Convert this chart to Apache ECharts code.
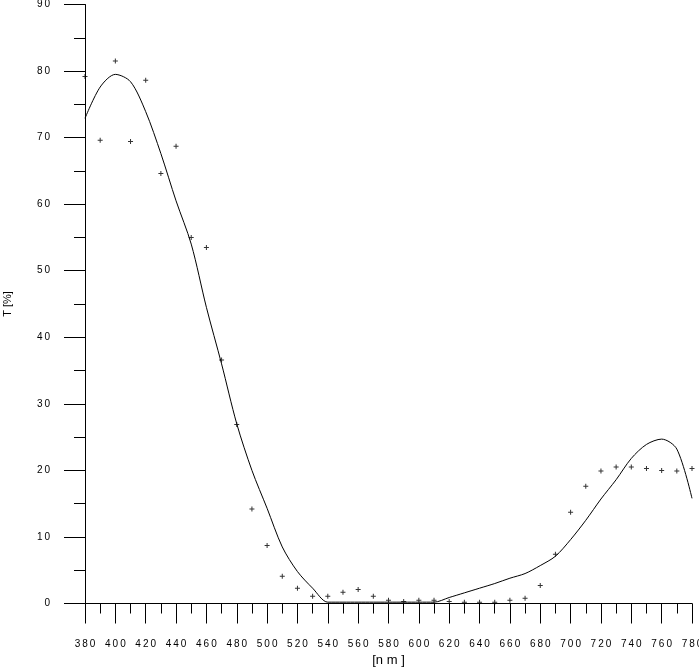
<!DOCTYPE html>
<html>
<head>
<meta charset="utf-8">
<script src="https://cdn.jsdelivr.net/npm/echarts@6/dist/echarts.min.js"></script>
<style>html,body{margin:0;padding:0;background:#fff}#c{width:699px;height:669px}</style>
</head>
<body>
<div id="c"></div>
<script>
// wavelengths (nm)
const wavelengths = [380,390,400,410,420,430,440,450,460,470,480,490,500,510,520,530,540,550,560,570,580,590,600,610,620,630,640,650,660,670,680,690,700,710,720,730,740,750,760,770,780];
// measured transmittance (+ markers)
const measured = [79.2,69.6,81.5,69.4,78.6,64.6,68.7,55.0,53.5,36.6,26.9,14.2,8.7,4.1,2.3,1.1,1.1,1.7,2.1,1.1,0.5,0.3,0.5,0.5,0.3,0.2,0.2,0.2,0.5,0.8,2.7,7.4,13.7,17.6,19.9,20.5,20.5,20.3,20.0,19.9,20.3];
// fitted curve
const fitted = [72.9,77.6,79.5,78.4,73.9,67.6,60.5,54.0,44.5,36.0,27.0,20.0,14.3,8.5,4.8,2.3,0.2,0.2,0.2,0.2,0.2,0.2,0.2,0.2,0.9,1.6,2.3,3.0,3.8,4.5,5.7,7.1,9.6,12.5,15.7,18.6,21.8,23.9,24.7,23.2,15.8];
const yTicks = [0,10,20,30,40,50,60,70,80,90];
const xLabel = '[n m ]';
const yLabel = 'T [%]';

const spaced = v => String(v).split('').join('\u2009');
const font = '"Liberation Sans",Arial,sans-serif';
const chart = echarts.init(document.getElementById('c'));
chart.setOption({
  backgroundColor: '#fff',
  animation: false,
  grid: {left: 85, right: 7, top: 4.5, bottom: 65.5, outerBoundsMode: 'none', containLabel: false},
  xAxis: {
    type: 'value', min: 380, max: 780, interval: 20,
    name: xLabel, nameLocation: 'middle', nameGap: 47,
    nameTextStyle: {fontFamily: font, fontSize: 13, color: '#000'},
    axisLine: {lineStyle: {color: '#000', width: 1}},
    axisTick: {length: 20, lineStyle: {color: '#000', width: 1}},
    minorTick: {show: true, splitNumber: 2, length: 10, lineStyle: {color: '#000', width: 1}},
    axisLabel: {margin: 36, fontFamily: font, fontSize: 10, color: '#000', formatter: spaced,
      showMaxLabel: true, showMinLabel: true, hideOverlap: false},
    splitLine: {show: false}
  },
  yAxis: {
    type: 'value', min: yTicks[0], max: yTicks[yTicks.length-1], interval: 10,
    name: yLabel, nameLocation: 'middle', nameGap: 72, nameRotate: 90,
    nameTextStyle: {fontFamily: font, fontSize: 11, color: '#000'},
    axisLine: {show: true, lineStyle: {color: '#000', width: 1}},
    axisTick: {show: true, length: 21, lineStyle: {color: '#000', width: 1}},
    minorTick: {show: true, splitNumber: 2, length: 11, lineStyle: {color: '#000', width: 1}},
    axisLabel: {margin: 35, fontFamily: font, fontSize: 10, color: '#000', formatter: spaced},
    splitLine: {show: false}
  },
  series: [
    {
      type: 'line', data: wavelengths.map((x,i)=>[x, fitted[i]]),
      smooth: 0.3, showSymbol: false, symbol: 'none',
      lineStyle: {color: '#000', width: 1}, z: 2
    },
    {
      type: 'scatter', data: wavelengths.map((x,i)=>[x, measured[i]]),
      symbol: 'path://M2 0H3V5H2Z M0 2H5V3H0Z', symbolSize: 5,
      itemStyle: {color: '#000'}, z: 3
    }
  ]
});
</script>
</body>
</html>
